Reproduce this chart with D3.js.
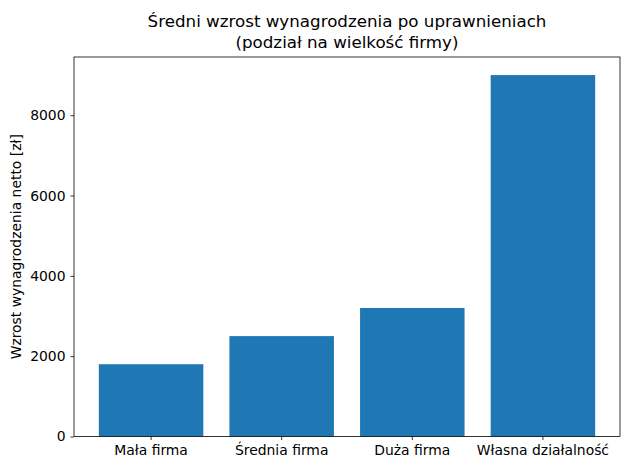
<!DOCTYPE html>
<html>
<head>
<meta charset="utf-8">
<script src="https://cdn.jsdelivr.net/npm/d3@7"></script>
<style>
  body { margin: 0; background: #fff; }
  text { font-family: "DejaVu Sans", sans-serif; fill: #000; }
</style>
</head>
<body>
<svg id="chart" width="630" height="470"></svg>
<script>
const categories = ["Mała firma", "Średnia firma", "Duża firma", "Własna działalność"];
const values = [1800, 2500, 3200, 9000];
const yTicks = [0, 2000, 4000, 6000, 8000];
const titleLines = ["Średni wzrost wynagrodzenia po uprawnieniach", "(podział na wielkość firmy)"];
const yLabel = "Wzrost wynagrodzenia netto [zł]";

(function () {
const svg = d3.select("#chart");
const mLeft = 74, mRight = 620, mTop = 57, mBottom = 436.5;

const x = d3.scaleBand().domain(categories).range([mLeft, mRight])
  .paddingInner(0.2).paddingOuter(0.19);
const y = d3.scaleLinear().domain([0, d3.max(values) * 1.05]).range([mBottom, mTop]);

svg.append("g").selectAll("rect").data(values).join("rect")
  .attr("x", (d, i) => x(categories[i]))
  .attr("y", d => y(d))
  .attr("width", x.bandwidth())
  .attr("height", d => y(0) - y(d))
  .attr("fill", "#1f77b4");

const xAxis = svg.append("g").attr("transform", `translate(0,${mBottom})`)
  .call(d3.axisBottom(x).tickSize(3.5).tickPadding(5).tickSizeOuter(0));
xAxis.select(".domain").remove();
xAxis.selectAll("text").style("font-size", "13.9px").attr("fill", "#000");
xAxis.selectAll("line").attr("stroke", "#000").attr("stroke-width", 0.8);

const yAxis = svg.append("g").attr("transform", `translate(${mLeft},0)`)
  .call(d3.axisLeft(y).tickValues(yTicks).tickFormat(d3.format("d")).tickSize(3.5).tickPadding(5).tickSizeOuter(0));
yAxis.select(".domain").remove();
yAxis.selectAll("text").style("font-size", "13.9px").attr("fill", "#000");
yAxis.selectAll("line").attr("stroke", "#000").attr("stroke-width", 0.8);

svg.append("rect").attr("x", mLeft).attr("y", mTop)
  .attr("width", mRight - mLeft).attr("height", mBottom - mTop)
  .attr("fill", "none").attr("stroke", "#000").attr("stroke-width", 0.8);

const cx = (mLeft + mRight) / 2;
svg.append("text").attr("text-anchor", "middle").style("font-size", "16.7px")
  .selectAll("tspan").data(titleLines).join("tspan")
  .attr("x", cx).attr("y", (d, i) => 27 + i * 20.5).text(d => d);

svg.append("text").attr("text-anchor", "middle").style("font-size", "13.9px")
  .attr("transform", `translate(21,${(mTop + mBottom) / 2}) rotate(-90)`)
  .text(yLabel);
})();
</script>
</body>
</html>
